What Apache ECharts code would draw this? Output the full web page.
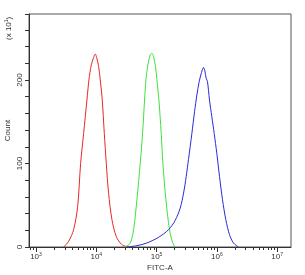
<!DOCTYPE html>
<html><head><meta charset="utf-8">
<script src="https://cdn.jsdelivr.net/npm/echarts@6/dist/echarts.min.js"></script>
<style>html,body{margin:0;padding:0;background:#fff}#c{width:305px;height:275px}</style>
</head><body><div id="c"></div>
<script>
// log10(FITC-A) positions and counts (x10^1)
const redLogX = [3.459,3.541,3.624,3.691,3.740,3.790,3.845,3.878,3.917,3.956,3.983,4.006,4.039,4.066,4.099,4.133,4.166,4.204,4.260,4.331,4.425,4.536];
const redY    = [0,6.8,20.7,48.6,100,136,176,200,218,227,231,227,216,200,176,136,100,64.5,32.7,12.7,2.8,0];
const greenLogX = [4.481,4.564,4.619,4.674,4.729,4.768,4.801,4.823,4.856,4.895,4.923,4.950,4.983,5.006,5.039,5.077,5.105,5.155,5.215,5.265,5.309];
const greenY    = [0,4.8,20.7,56.6,100,136,176,200,218,230,232,228,216,200,176,136,100,56.6,20.7,5.6,0];
const blueLogX = [4.508,4.674,4.840,5.033,5.199,5.309,5.392,5.448,5.492,5.530,5.586,5.630,5.669,5.707,5.746,5.779,5.801,5.823,5.845,5.878,5.917,5.956,6.000,6.044,6.094,6.149,6.210,6.276,6.359];
const blueY    = [0,1.6,4.8,11.6,20.7,31.9,46.6,64.5,84.5,105,136,162,182,198,209,215,211,202,198,176,156,136,112,84.5,56.6,32.7,14.7,4.8,0];
const xMajorTicks = [1e3,1e4,1e5,1e6,1e7];
const yLabelValues = [0,100,200];
const xMin = 765, xMax = 1.7e7, yMax = 279;

const minorTicks = [];
for (let d = 2; d <= 7; d++) for (let k = 1; k <= 9; k++) {
  const v = k * Math.pow(10, d);
  if (v >= xMin && v <= xMax) minorTicks.push(v);
}
const pts = (xs, ys) => xs.map((e, i) => [Math.pow(10, e), ys[i]]);
const txt = '#333';
const chart = echarts.init(document.getElementById('c'), null, {renderer: 'canvas'});
chart.setOption({
  animation: false,
  grid: {left: 29, right: 14, top: 14, bottom: 28, containLabel: false, outerBoundsMode: 'none',
         show: true, borderColor: '#555', borderWidth: 1},
  xAxis: [
    {type: 'log', logBase: 10, min: xMin, max: xMax, position: 'bottom',
     axisLine: {show: true, onZero: false, lineStyle: {color: '#333'}},
     axisTick: {show: true, length: 3, customValues: minorTicks, lineStyle: {color: '#333'}},
     axisLabel: {show: false}, splitLine: {show: false}},
    {type: 'log', logBase: 10, min: xMin, max: xMax, position: 'bottom',
     name: 'FITC-A', nameLocation: 'middle', nameGap: 17, nameMoveOverlap: false,
     nameTextStyle: {fontFamily: 'Liberation Sans', fontSize: 8, color: txt},
     axisLine: {show: false},
     axisTick: {show: true, length: 5, customValues: xMajorTicks, lineStyle: {color: '#333'}},
     axisLabel: {show: true, customValues: xMajorTicks, margin: 5,
       formatter: v => '{b|10}{s|' + Math.round(Math.log10(v)) + '}',
       rich: {b: {fontFamily: 'Liberation Sans', fontSize: 8, color: txt},
              s: {fontFamily: 'Liberation Sans', fontSize: 5, color: txt, verticalAlign: 'top', padding: [0,0,5,0]}}},
     splitLine: {show: false}}
  ],
  yAxis: {type: 'value', min: 0, max: yMax, interval: 20,
    name: 'Count', nameLocation: 'middle', nameGap: 17, nameMoveOverlap: false,
    nameTextStyle: {fontFamily: 'Liberation Sans', fontSize: 8, color: txt},
    axisLine: {show: true, lineStyle: {color: '#333'}},
    axisTick: {show: true, length: 4, lineStyle: {color: '#333'}},
    axisLabel: {rotate: 90, margin: 5, fontFamily: 'Liberation Sans', fontSize: 8, color: txt,
      formatter: v => yLabelValues.includes(v) ? String(v) : ''},
    splitLine: {show: false}},
  graphic: [{type: 'text', x: 4, y: 40, rotation: Math.PI / 2,
    style: {text: '(x 10{s|1})', fill: txt, font: '8px "Liberation Sans"', verticalAlign: 'top', align: 'left',
      rich: {s: {fontSize: 5, fontFamily: 'Liberation Sans', fill: txt, verticalAlign: 'top', padding: [0,0,5,0]}}}}],
  series: [
    {type: 'line', data: pts(redLogX, redY), showSymbol: false, smooth: 0.3, lineStyle: {color: '#e8262b', width: 1}},
    {type: 'line', data: pts(greenLogX, greenY), showSymbol: false, smooth: 0.3, lineStyle: {color: '#3fe03f', width: 1}},
    {type: 'line', data: pts(blueLogX, blueY), showSymbol: false, smooth: 0.3, lineStyle: {color: '#2a2ad6', width: 1}}
  ]
});
</script></body></html>
